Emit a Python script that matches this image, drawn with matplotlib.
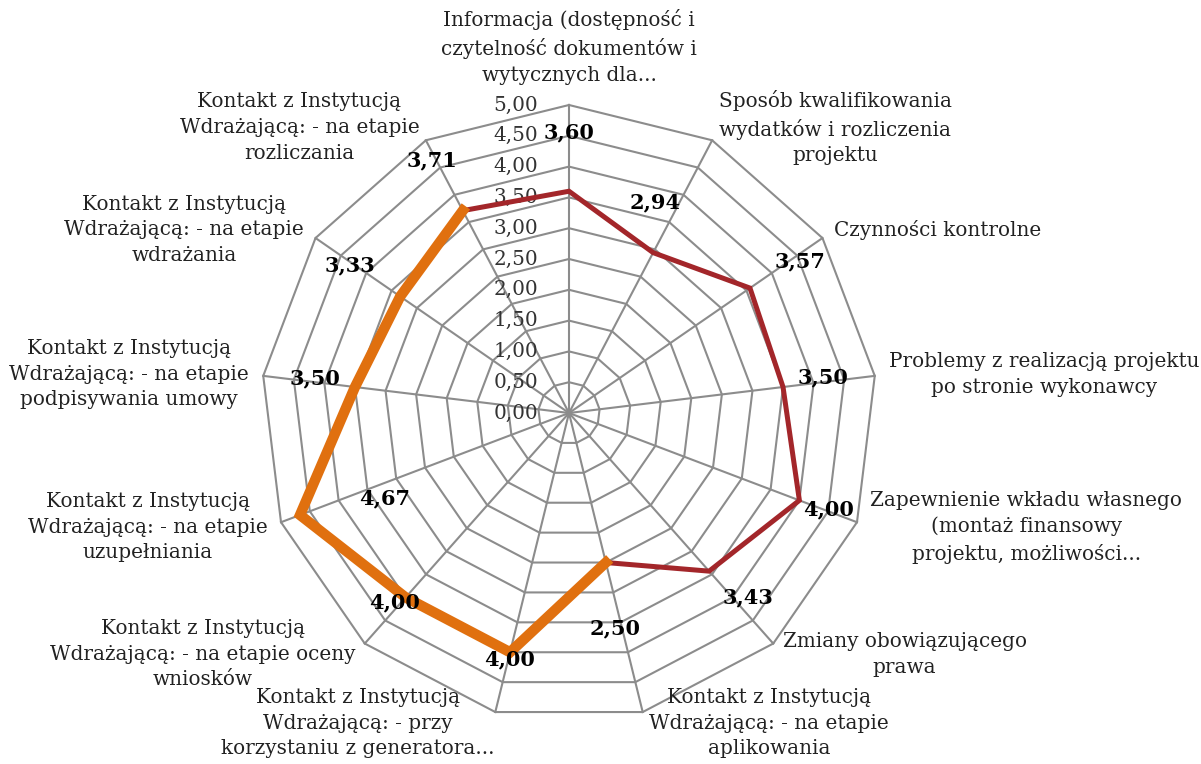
import numpy as np
import matplotlib.pyplot as plt

# Kategorie (zgodnie z ruchem wskazówek zegara, od góry)
kategorie = [
    "Informacja (dostępność i\nczytelność dokumentów i\nwytycznych dla...",
    "Sposób kwalifikowania\nwydatków i rozliczenia\nprojektu",
    "Czynności kontrolne",
    "Problemy z realizacją projektu\npo stronie wykonawcy",
    "Zapewnienie wkładu własnego\n(montaż finansowy\nprojektu, możliwości...",
    "Zmiany obowiązującego\nprawa",
    "Kontakt z Instytucją\nWdrażającą: - na etapie\naplikowania",
    "Kontakt z Instytucją\nWdrażającą: - przy\nkorzystaniu z generatora...",
    "Kontakt z Instytucją\nWdrażającą: - na etapie oceny\nwniosków",
    "Kontakt z Instytucją\nWdrażającą: - na etapie\nuzupełniania",
    "Kontakt z Instytucją\nWdrażającą: - na etapie\npodpisywania umowy",
    "Kontakt z Instytucją\nWdrażającą: - na etapie\nwdrażania",
    "Kontakt z Instytucją\nWdrażającą: - na etapie\nrozliczania",
]
oceny = [3.60, 2.94, 3.57, 3.50, 4.00, 3.43, 2.50, 4.00, 4.00, 4.67, 3.50, 3.33, 3.71]
skala = [0.0, 0.5, 1.0, 1.5, 2.0, 2.5, 3.0, 3.5, 4.0, 4.5, 5.0]

# pozycje etykiet wartości (promień, przesunięcie kąta w stopniach)
etyk_r = [4.56, 3.70, 4.48, 4.16, 4.49, 4.18, 3.57, 4.12, 4.18, 3.29, 4.16, 4.29, 4.67]
etyk_dk = [0, -5.5, 1.4, -1.1, -0.3, -2.6, 1.7, -0.4, 1.0, -4.0, 0.9, -0.6, -0.7]

czerwony = '#a3262a'
pomarancz = '#e0700f'
szary = '#8c8c8c'
czcionka = 'DejaVu Serif'
rozmiar = 14.4

n = len(kategorie)
kat = np.arange(n) * 2 * np.pi / n

def xy(r, a):
    return r * np.sin(a), r * np.cos(a)

fig = plt.figure(figsize=(12.01, 7.64), dpi=100)
ax = fig.add_axes([0, 0, 1, 1])
skal = 308 / 5.0  # piksele na jednostkę
ax.set_xlim(-569 / skal, (1201 - 569) / skal)
ax.set_ylim(-(764 - 413) / skal, 413 / skal)
ax.axis('off')

# siatka
kat_z = np.append(kat, kat[0])
for r in skala[1:]:
    x, y = xy(r, kat_z)
    ax.plot(x, y, color=szary, lw=1.5, zorder=1)
for a in kat:
    x, y = xy(np.array([0, 5]), a)
    ax.plot(x, y, color=szary, lw=1.5, zorder=1)

# etykiety skali
for r in skala:
    ax.text(-0.5, r, f"{r:.2f}".replace('.', ','), ha='right', va='center',
            fontsize=rozmiar, family=czcionka, color='#333333', zorder=2)

# linia danych - segmenty w dwóch kolorach
ox, oy = xy(np.array(oceny), kat)
idx_cz = [12, 0, 1, 2, 3, 4, 5, 6]
idx_po = [6, 7, 8, 9, 10, 11, 12]
ax.plot(ox[idx_cz], oy[idx_cz], color=czerwony, lw=3.6, zorder=3,
        solid_joinstyle='miter')
ax.plot(ox[idx_po], oy[idx_po], color=pomarancz, lw=7.5, zorder=4,
        solid_joinstyle='miter')

# etykiety wartości
for i in range(n):
    x, y = xy(etyk_r[i], kat[i] + np.deg2rad(etyk_dk[i]))
    ax.text(x, y, f"{oceny[i]:.2f}".replace('.', ','), ha='center', va='center',
            fontsize=15, fontweight='bold', family=czcionka, zorder=5)

# etykiety kategorii
styl = dict(fontsize=rozmiar, family=czcionka, linespacing=1.45,
            multialignment='center', color='#222222')
pad = 0.23
dol = (413 - 688) / skal  # górna krawędź etykiet na dole
for i in range(n):
    s, c = np.sin(kat[i]), np.cos(kat[i])
    x, y = xy(5 + pad, kat[i])
    if i == 0:
        ax.text(x, y + 0.1, kategorie[i], ha='center', va='bottom', **styl)
    elif i == 6:
        ax.text(x + 0.05, dol, kategorie[i], ha='left', va='top', **styl)
    elif i == 7:
        ax.text(x + 0.05, dol, kategorie[i], ha='right', va='top', **styl)
    else:
        ha = 'left' if s > 0 else 'right'
        ax.text(x, y, kategorie[i], ha=ha, va='center', **styl)

fig.savefig('out.png', dpi=100, facecolor='white')
